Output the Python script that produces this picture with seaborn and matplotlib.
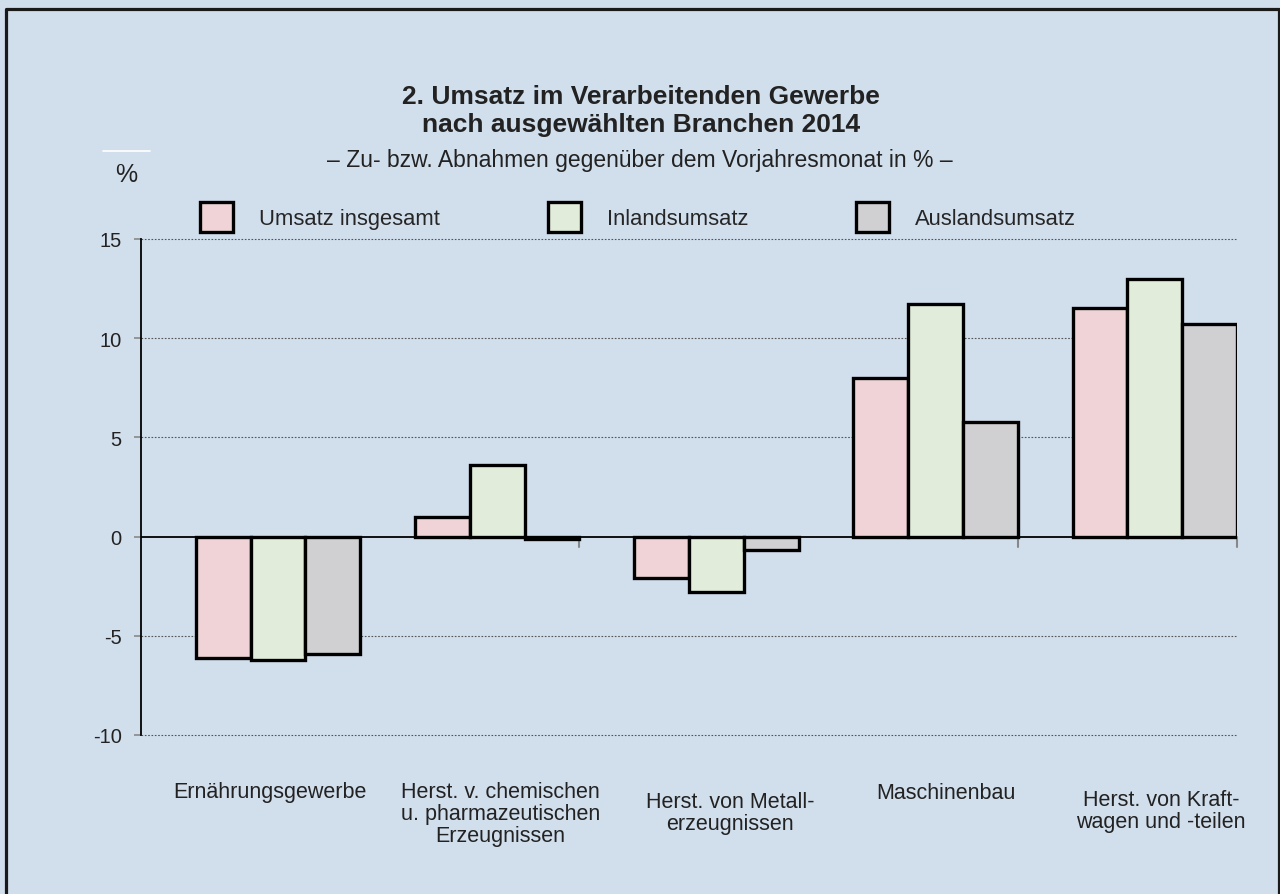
import numpy as np
import pandas as pd
import matplotlib
matplotlib.use("Agg")
import matplotlib.pyplot as plt
from matplotlib.lines import Line2D
import seaborn as sns

# Daten
branchen = ["Ernährungsgewerbe",
            "Herst. v. chemischen\nu. pharmazeutischen\nErzeugnissen",
            "Herst. von Metall-\nerzeugnissen",
            "Maschinenbau",
            "Herst. von Kraft-\nwagen und -teilen"]
reihen = ["Umsatz insgesamt", "Inlandsumsatz", "Auslandsumsatz"]
umsatz_insgesamt = [-6.1, 1.0, -2.1, 8.0, 11.5]
inlandsumsatz = [-6.2, 3.6, -2.8, 11.7, 13.0]
auslandsumsatz = [-5.9, -0.1, -0.7, 5.8, 10.7]
y_ticks = [-10, -5, 0, 5, 10, 15]

# Lage der Branchenbeschriftung (Pixel, erste Zeile)
label_x_off = [-8, 3, 14, 10, 6]
label_y = [793, 793, 803, 794, 801]

farben = ["#EFD3D6", "#E2ECDA", "#D0D0D2"]
hintergrund = "#D1DEEC"
textfarbe = "#222222"

df = pd.DataFrame({
    "Branche": branchen * 3,
    "Reihe": [r for r in reihen for _ in branchen],
    "Wert": umsatz_insgesamt + inlandsumsatz + auslandsumsatz,
})

sns.set_theme(style="white")
plt.rcParams["font.family"] = ["Liberation Sans", "DejaVu Sans"]

W, H = 1280, 895
fig = plt.figure(figsize=(12.8, 8.95), dpi=100, facecolor=hintergrund)
ax = fig.add_axes([141 / W, 1 - 736 / H, 1096 / W, 496 / H])
ax.set_facecolor(hintergrund)

sns.barplot(data=df, x="Branche", y="Wert", hue="Reihe", order=branchen, hue_order=reihen,
            palette=farben, saturation=1, width=0.75, edgecolor="black", linewidth=2.4,
            ax=ax, zorder=3)
ax.get_legend().remove()

ax.set_xlim(-0.625, 4.375)
ax.set_ylim(-10, 15)
ax.set_yticks(y_ticks)
ax.set_yticklabels([str(t) for t in y_ticks], fontsize=14.5, color=textfarbe)
for t in y_ticks:
    if t != 0:
        ax.axhline(t, color="#555555", lw=0.8, ls=(0, (1.5, 1.5)), zorder=1, clip_on=False)
ax.axhline(0, color="black", lw=1.3, zorder=4)

# Achsen / Striche
for s in ["top", "right", "bottom"]:
    ax.spines[s].set_visible(False)
ax.spines["left"].set_color("black")
ax.spines["left"].set_linewidth(1.3)
ax.tick_params(axis="y", which="major", direction="out", length=5, width=1.2,
               color="#888888", pad=9, left=True)
ax.set_xticks([])
for xb in np.arange(len(branchen)) + 0.375:
    ax.plot([xb, xb], [0, -0.5], color="#888888", lw=1.5, zorder=2, clip_on=False)
ax.set_xlabel("")
ax.set_ylabel("")

for i, name in enumerate(branchen):
    fx = ax.transData.transform((i, 0))[0] / W + label_x_off[i] / W
    fig.text(fx, 1 - (label_y[i] - 11) / H, name, ha="center", va="top", fontsize=15.5,
             color=textfarbe, linespacing=1.05)

# Legende
handles = [plt.Rectangle((0, 0), 1, 1, facecolor=c, edgecolor="black", lw=2.4) for c in farben]
fig.legend(handles, reihen, loc="center left", bbox_to_anchor=(200 / W, 1 - 218 / H),
           ncol=3, frameon=False, fontsize=15.8, handlelength=1.5, handleheight=1.75,
           handletextpad=1.2, columnspacing=4.9, borderaxespad=0, borderpad=0)

# Titel
fig.text(0.501, 1 - 97 / H, "2. Umsatz im Verarbeitenden Gewerbe", ha="center", va="center",
         fontsize=19, fontweight="bold", color=textfarbe)
fig.text(0.501, 1 - 125 / H, "nach ausgewählten Branchen 2014", ha="center", va="center",
         fontsize=19, fontweight="bold", color=textfarbe)
fig.text(0.5, 1 - 160 / H, "– Zu- bzw. Abnahmen gegenüber dem Vorjahresmonat in % –",
         ha="center", va="center", fontsize=16.5, color=textfarbe)
fig.text(126 / W, 1 - 175 / H, "%", ha="center", va="center", fontsize=18, color=textfarbe)
fig.add_artist(Line2D([103 / W, 150 / W], [1 - 152 / H] * 2, color="white", lw=1.2))

# Rahmen
rx0, rx1, ry1 = 5.5 / W, 1278.5 / W, 1 - 9.5 / H
fig.add_artist(Line2D([rx0, rx0, rx1, rx1], [-0.01, ry1, ry1, -0.01], color="#1a1a1a", lw=2.3))

fig.savefig("out.png", dpi=100, facecolor=hintergrund)
